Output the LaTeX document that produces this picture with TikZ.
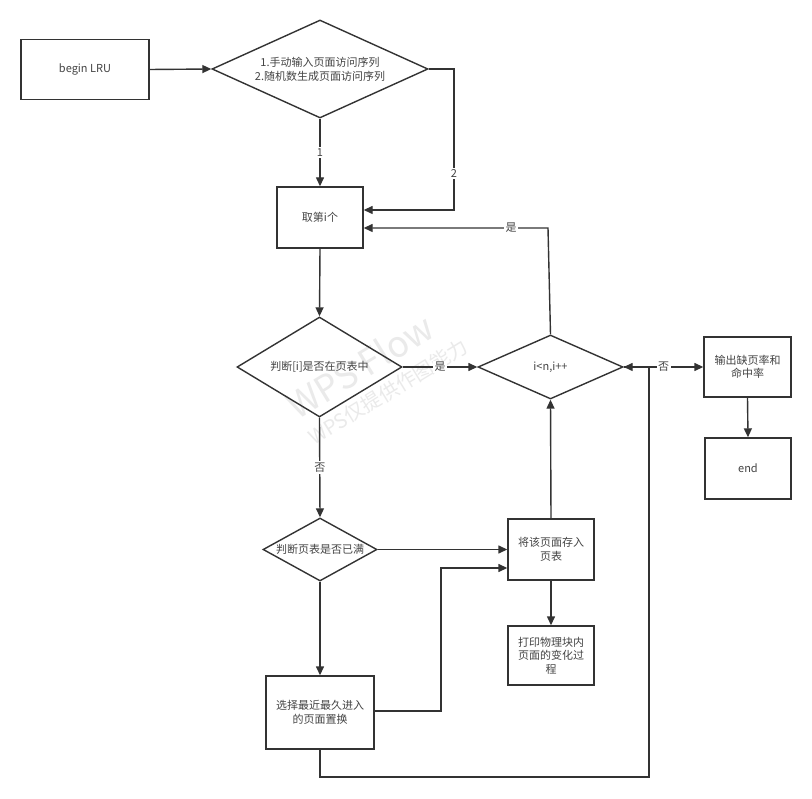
\documentclass[tikz,border=0pt]{standalone}
\usepackage{fontspec}
\setmainfont{Noto Sans CJK SC}
\usetikzlibrary{shapes.geometric,arrows.meta}
\definecolor{lc}{HTML}{333333}
\definecolor{tc}{HTML}{444444}
\definecolor{wm}{HTML}{EAEAEA}
\tikzset{
  box/.style={draw=lc, line width=1.4pt, rectangle, inner sep=0pt, align=center, text=tc, font=\fontsize{11}{13.5}\selectfont},
  dia/.style={draw=lc, line width=1.4pt, diamond, inner sep=0pt, align=center, text=tc, font=\fontsize{11}{14}\selectfont},
  conn/.style={draw=lc, line width=1.4pt, -{Triangle[length=9pt,width=8pt]}},
  lbl/.style={fill=white, text=tc, inner sep=1.5pt, font=\fontsize{11}{13}\selectfont},
  wmark/.style={text=wm, inner sep=0pt}
}
\begin{document}
\begin{tikzpicture}[x=1pt,y=-1pt]
\useasboundingbox[fill=white] (0,0) rectangle (812,799);
% watermark
\node[wmark, rotate=31.5, anchor=base west, font=\fontsize{36}{36}\selectfont] (wm1) at (297,421) {WPS Flow};
\node[wmark, rotate=31.5, anchor=base west, font=\fontsize{20}{20}\selectfont] (wm2) at (314,446) {WPS仅提供作图能力};
% nodes
\node[box, minimum width=128pt, minimum height=60pt] (begin) at (85,69.5) {begin LRU};
\node[dia, minimum width=216pt, minimum height=98pt, aspect=2.2] (d1) at (320,69) {1.手动输入页面访问序列\\2.随机数生成页面访问序列};
\node[box, minimum width=86pt, minimum height=61pt] (take) at (320,217.5) {取第i个};
\node[dia, minimum width=165pt, minimum height=100pt, aspect=1.65] (d2) at (319.5,367) {判断[i]是否在页表中};
\node[dia, minimum width=145pt, minimum height=64pt, aspect=2.26] (d3) at (550.5,367) {i<n,i++};
\node[box, minimum width=87pt, minimum height=60pt] (out) at (747.5,367) {输出缺页率和\\命中率};
\node[box, minimum width=86pt, minimum height=61pt] (endb) at (748,468.5) {end};
\node[dia, minimum width=114pt, minimum height=63pt, aspect=1.8] (d4) at (320,549.5) {判断页表是否已满};
\node[box, minimum width=86pt, minimum height=61pt] (store) at (551,549.5) {将该页面存入\\页表};
\node[box, minimum width=86pt, minimum height=59pt] (print) at (551,655.5) {打印物理块内\\页面的变化过\\程};
\node[box, minimum width=108pt, minimum height=73pt] (sel) at (320,712.5) {选择最近最久进入\\的页面置换};
% helper coordinates
\coordinate (c2a) at (454,69);
\coordinate (c2b) at (454,210);
\coordinate (cy) at (548,228);
\coordinate (cs1) at (441,711);
\coordinate (cs2) at (441,568);
\coordinate (cl1) at (320,777);
\coordinate (cl2) at (649,777);
\coordinate (cl3) at (649,367);
% connectors
\draw[conn] (begin.east) -- (d1.west);
\draw[conn] (d1.south) -- node[lbl]{1} (take.north);
\draw[conn] (d1.east) -- (c2a) -- node[lbl, pos=0.74]{2} (c2b) -- (take.east |- c2b);
\draw[conn] (d3.north) -- (cy) -- node[lbl, pos=0.2]{是} (take.east |- cy);
\draw[conn] (take.south) -- (d2.north);
\draw[conn] (d2.east) -- node[lbl]{是} (d3.west);
\draw[conn] (d2.south) -- node[lbl]{否} (d4.north);
\draw[conn] (d3.east) -- node[lbl]{否} (out.west);
\draw[conn] (sel.south) -- (cl1) -- (cl2) -- (cl3) -- (d3.east);
\draw[conn] (out.south) -- (endb.north);
\draw[conn] (d4.east) -- (store.west);
\draw[conn] (sel.east |- cs1) -- (cs1) -- (cs2) -- (store.west |- cs2);
\draw[conn] (store.north) -- (d3.south);
\draw[conn] (store.south) -- (print.north);
\draw[conn] (d4.south) -- (sel.north);
\end{tikzpicture}
\end{document}
